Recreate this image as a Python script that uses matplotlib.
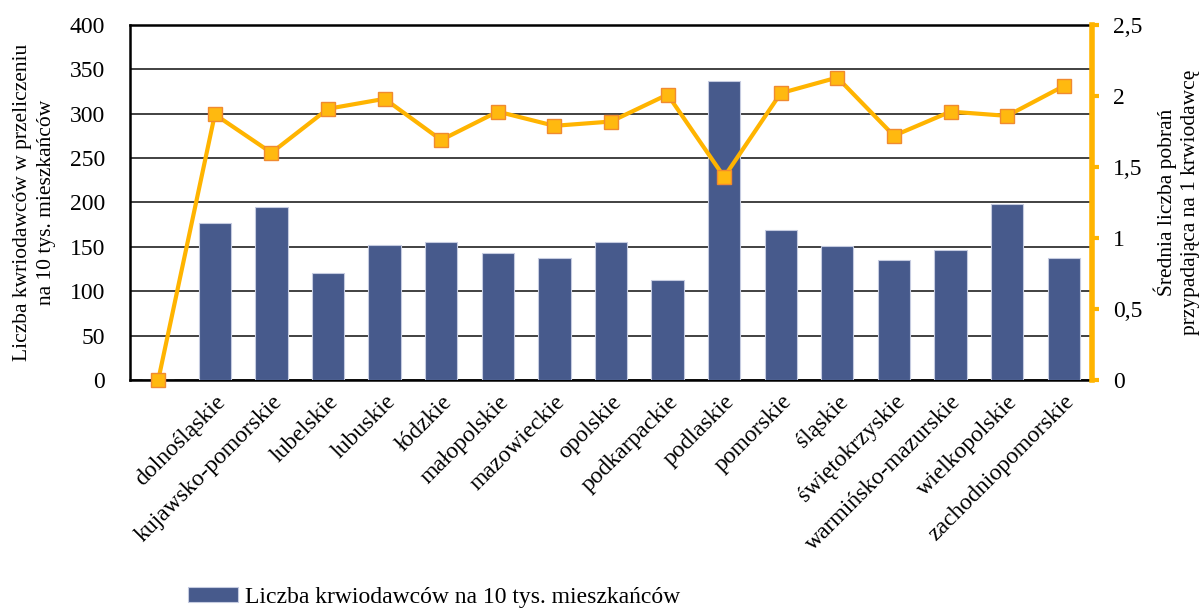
import matplotlib.pyplot as plt
import numpy as np

plt.rcParams['font.family'] = ['Liberation Serif', 'DejaVu Serif']

regions = ['', 'dolnośląskie', 'kujawsko-pomorskie', 'lubelskie', 'lubuskie', 'łódzkie',
           'małopolskie', 'mazowieckie', 'opolskie', 'podkarpackie', 'podlaskie',
           'pomorskie', 'śląskie', 'świętokrzyskie', 'warmińsko-mazurskie',
           'wielkopolskie', 'zachodniopomorskie']
donors = [0, 177, 195, 121, 152, 155, 143, 138, 155, 113, 337, 169, 151, 135, 146, 198, 138]
donations = [0, 1.87, 1.60, 1.91, 1.98, 1.69, 1.89, 1.79, 1.82, 2.01, 1.43, 2.02, 2.13,
             1.72, 1.89, 1.86, 2.07]

x = np.arange(len(regions))

fig = plt.figure(figsize=(12, 6.08), dpi=100)
ax = fig.add_axes([0.1083, 0.375, 0.8017, 0.5839])
ax2 = ax.twinx()

bars = ax.bar(x, donors, width=0.57, color='#475A8C', edgecolor='#c5cbe0', linewidth=0.8,
              label='Liczba krwiodawców na 10 tys. mieszkańców', zorder=3)
ax.set_xlim(-0.5, len(regions) - 0.5)
ax.set_ylim(0, 400)
ax.set_yticks(range(0, 401, 50))
ax.yaxis.grid(True, color='#333333', linewidth=1.3, zorder=0)
ax.set_axisbelow(True)
ax.tick_params(axis='y', length=0, pad=18, labelsize=17)
ax.tick_params(axis='x', length=0, pad=8)
ax.set_xticks(x)
ax.set_xticklabels(regions, rotation=45, ha='right', rotation_mode='anchor', fontsize=17)
ax.set_ylabel('Liczba kwriodawców w przeliczeniu\nna 10 tys. mieszkańców', fontsize=15.5,
              labelpad=10, linespacing=1.3)
for s in ['left', 'bottom', 'top']:
    ax.spines[s].set_color('black')
    ax.spines[s].set_linewidth(1.8)
ax.spines['right'].set_visible(False)

ax2.plot(x, donations, color='#FFB400', linewidth=3, marker='s', markersize=10,
         markerfacecolor='#FFB90F', markeredgecolor='#F08A30', markeredgewidth=1,
         clip_on=False, zorder=5)
ax2.set_ylim(0, 2.5)
ax2.set_yticks([0, 0.5, 1, 1.5, 2, 2.5])
ax2.set_yticklabels(['0', '0,5', '1', '1,5', '2', '2,5'])
ax2.tick_params(axis='y', colors='#FFB400', labelcolor='black', length=5, width=3,
                labelsize=17, pad=10)
ax2.spines['right'].set_color('#FFB400')
ax2.spines['right'].set_linewidth(4)
for s in ['left', 'bottom', 'top']:
    ax2.spines[s].set_visible(False)
ax2.set_ylabel('Średnia liczba pobrań\nprzypadająca na 1 krwiodawcę', fontsize=15.5,
               labelpad=8, linespacing=1.3)

fig.legend(handles=[bars], loc='center left', bbox_to_anchor=(0.139, 0.017), frameon=False,
           fontsize=17, handlelength=2.1, handleheight=0.6, handletextpad=0.3)

fig.savefig('out.png', dpi=100)
